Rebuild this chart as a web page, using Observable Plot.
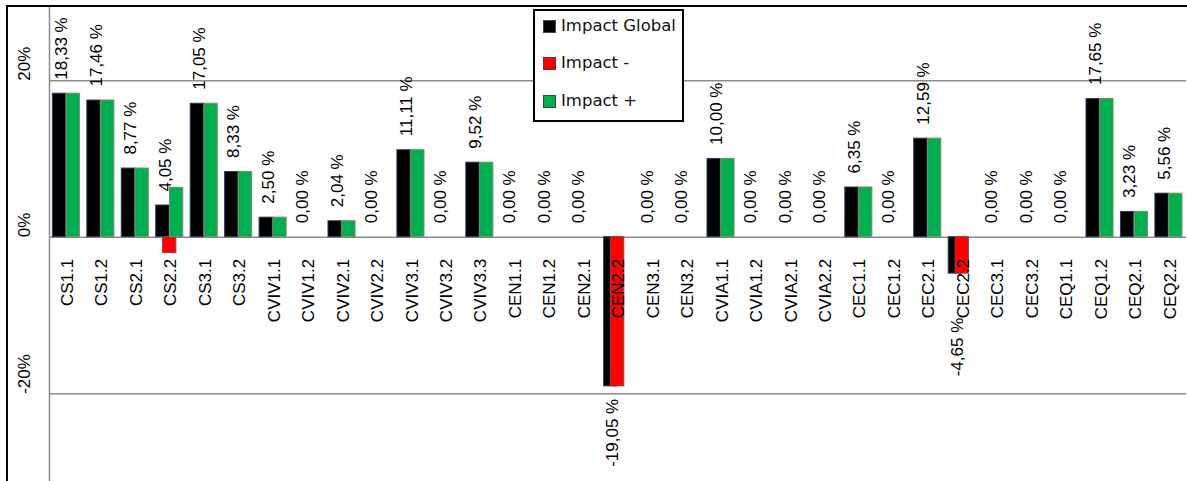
<!DOCTYPE html>
<html><head><meta charset="utf-8">
<script src="https://cdn.jsdelivr.net/npm/d3@7"></script>
<script src="https://cdn.jsdelivr.net/npm/@observablehq/plot@0.6"></script>
<style>
html,body{margin:0;padding:0;background:#fff;width:1187px;height:481px;overflow:hidden;}
#frame{position:absolute;left:6px;top:5px;width:1181px;height:476px;border-left:2px solid #000;border-top:2px solid #000;}
#chart{position:absolute;left:0;top:0;}
#legend{position:absolute;left:525px;top:2px;width:147px;height:109px;border:2px solid #000;background:#fff;font-family:"DejaVu Sans",sans-serif;font-size:16.5px;color:#111;}
.row{position:absolute;left:0;height:18px;line-height:18px;white-space:nowrap;}
.sw{position:absolute;left:8px;top:3px;width:11px;height:11px;border:1px solid #444;box-sizing:content-box;}
.lab{position:absolute;left:26px;top:0;}
</style></head>
<body>
<div id="frame"><div id="chart"></div><div id="legend"></div></div>
<script>
const categories = ["CS1.1","CS1.2","CS2.1","CS2.2","CS3.1","CS3.2","CVIV1.1","CVIV1.2","CVIV2.1","CVIV2.2","CVIV3.1","CVIV3.2","CVIV3.3","CEN1.1","CEN1.2","CEN2.1","CEN2.2","CEN3.1","CEN3.2","CVIA1.1","CVIA1.2","CVIA2.1","CVIA2.2","CEC1.1","CEC1.2","CEC2.1","CEC2.2","CEC3.1","CEC3.2","CEQ1.1","CEQ1.2","CEQ2.1","CEQ2.2"];
const impactGlobal = [18.33,17.46,8.77,4.05,17.05,8.33,2.50,0,2.04,0,11.11,0,9.52,0,0,0,-19.05,0,0,10.00,0,0,0,6.35,0,12.59,-4.65,0,0,0,17.65,3.23,5.56];
const impactMinus  = [0,0,0,-2.03,0,0,0,0,0,0,0,0,0,0,0,0,-19.05,0,0,0,0,0,0,0,0,0,-4.65,0,0,0,0,0,0];
const impactPlus   = [18.33,17.46,8.77,6.3,17.05,8.33,2.50,0,2.04,0,11.11,0,9.52,0,0,0,0,0,0,10.00,0,0,0,6.35,0,12.59,0,0,0,0,17.65,3.23,5.56];
const seriesNames = ["Impact Global","Impact -","Impact +"];
const yTicks = [-20, 0, 20];

const colors = ["#000000","#ff0000","#00b050"];
const strokes = ["#2b3d5c","#9a3a3a","#7d8a60"];
const offsets = [-0.2, 0, 0.2];
const center = 0.49, half = 0.1925;
const seriesValues = [impactGlobal, impactMinus, impactPlus];

const fmt = v => v.toFixed(2).replace(".", ",") + " %";

const barMarks = seriesValues.map((vals, s) => {
  const rows = vals.map((v, i) => ({i, v})).filter(d => d.v !== 0);
  return Plot.rect(rows, {
    x1: d => d.i + center + offsets[s] - half,
    x2: d => d.i + center + offsets[s] + half,
    y1: 0, y2: d => d.v,
    fill: colors[s], stroke: strokes[s], strokeWidth: 1
  });
});

const labelRows = impactGlobal.map((v, i) => ({i, v}));

const chart = Plot.plot({
  width: 1179, height: 474,
  marginLeft: 41, marginRight: 1, marginTop: 0, marginBottom: 0,
  x: {domain: [0, 33], axis: null},
  y: {domain: [-31.2, 29.34], axis: null},
  style: {fontFamily: "'Liberation Sans', Arial, sans-serif", fontSize: "17px", background: "transparent", overflow: "visible", color: "#000"},
  marks: [
    Plot.ruleY(yTicks, {stroke: "#8c8c8c", strokeWidth: 1.5}),
    Plot.frame({anchor: "left", stroke: "#8c8c8c", strokeWidth: 1.5}),
    Plot.text(yTicks, {y: d => d, frameAnchor: "left", dx: -25, rotate: -90, text: d => d + "%", fontSize: 17, fill: "#000"}),
    ...barMarks,
    Plot.text(categories, {x: (d, i) => i + 0.5, y: 0, text: d => d, rotate: -90, textAnchor: "end", dy: 21.6, dx: 0.8, fontSize: 17, fill: "#000"}),
    Plot.text(labelRows.filter(d => d.v >= 0), {x: d => d.i + 0.5, y: d => d.v, text: d => fmt(d.v), rotate: -90, textAnchor: "start", dy: -14, dx: -5, fontSize: 17, fill: "#000"}),
    Plot.text(labelRows.filter(d => d.v < 0), {x: d => d.i + 0.5, y: d => Math.min(d.v, -8.7), text: d => fmt(d.v), rotate: -90, textAnchor: "end", dy: 12.4, dx: -5, fontSize: 17, fill: "#000"})
  ]
});
document.getElementById("chart").appendChild(chart);

const legend = document.getElementById("legend");
const rowCenters = [15, 52.3, 89.8];
seriesNames.forEach((name, s) => {
  const row = document.createElement("div");
  row.className = "row";
  row.style.top = (rowCenters[s] - 9) + "px";
  row.innerHTML = `<span class="sw" style="background:${colors[s]}"></span><span class="lab">${name}</span>`;
  legend.appendChild(row);
});
</script>
</body></html>
